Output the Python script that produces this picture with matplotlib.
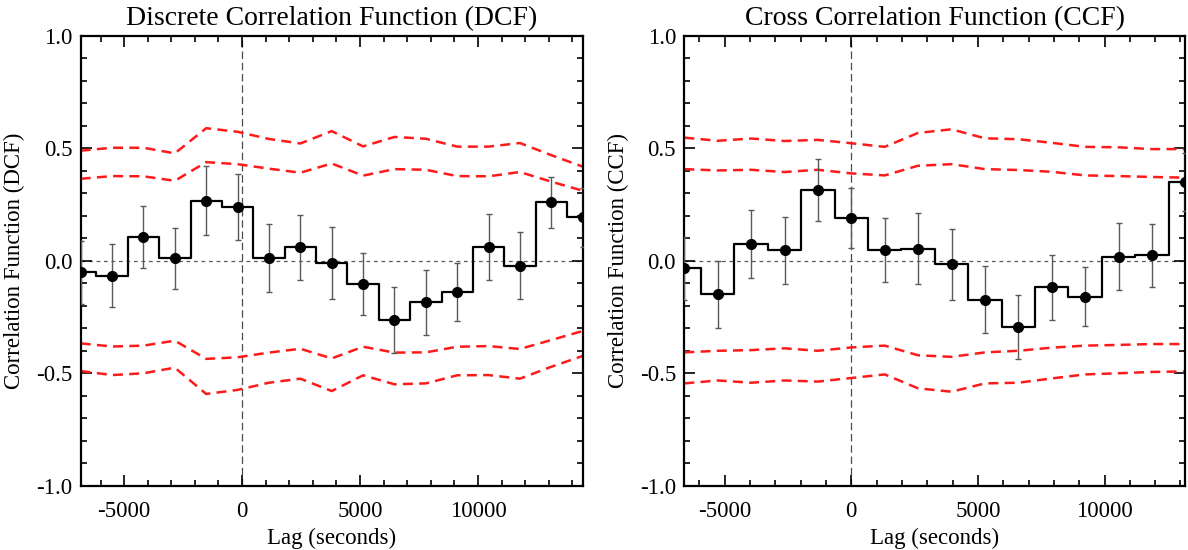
import matplotlib
matplotlib.use("Agg")
import matplotlib.pyplot as plt
from matplotlib.ticker import MultipleLocator, FormatStrFormatter

plt.rcParams['font.family'] = ['Liberation Serif', 'DejaVu Serif']
plt.rcParams['axes.unicode_minus'] = False

# ---------------- DCF (left panel) ----------------
dcf_lag = [-6840, -5510, -4180, -2850, -1520, -190, 1140, 2470, 3800,
           5130, 6460, 7790, 9120, 10450, 11780, 13110, 14440]
dcf_val = [-0.050, -0.066, 0.104, 0.011, 0.267, 0.241, 0.013, 0.060, -0.011,
           -0.102, -0.262, -0.185, -0.140, 0.061, -0.021, 0.260, 0.193]
dcf_err = [0.14, 0.140, 0.138, 0.136, 0.153, 0.147, 0.152, 0.145, 0.160,
           0.138, 0.146, 0.146, 0.129, 0.146, 0.149, 0.115, 0.13]
dcf_up_outer = [0.490, 0.503, 0.503, 0.478, 0.590, 0.574, 0.542, 0.522, 0.577,
                0.509, 0.551, 0.543, 0.508, 0.508, 0.524, 0.470, 0.419]
dcf_up_inner = [0.365, 0.377, 0.376, 0.356, 0.439, 0.430, 0.410, 0.392, 0.433,
                0.379, 0.408, 0.405, 0.377, 0.376, 0.395, 0.352, 0.312]
dcf_lo_inner = [-0.367, -0.381, -0.377, -0.355, -0.436, -0.429, -0.408, -0.391, -0.434,
                -0.382, -0.408, -0.407, -0.382, -0.379, -0.392, -0.352, -0.312]
dcf_lo_outer = [-0.490, -0.508, -0.500, -0.475, -0.592, -0.574, -0.542, -0.524, -0.579,
                -0.509, -0.549, -0.545, -0.509, -0.508, -0.524, -0.471, -0.423]

# ---------------- CCF (right panel) ----------------
ccf_lag = [-6595, -5276, -3957, -2638, -1319, 0, 1319, 2638, 3957,
           5276, 6595, 7914, 9233, 10552, 11871, 13190]
ccf_val = [-0.033, -0.149, 0.075, 0.047, 0.315, 0.189, 0.047, 0.053, -0.016,
           -0.173, -0.294, -0.118, -0.159, 0.018, 0.024, 0.350]
ccf_err = [0.14, 0.148, 0.150, 0.149, 0.139, 0.133, 0.143, 0.158, 0.157,
           0.148, 0.143, 0.143, 0.132, 0.149, 0.142, 0.13]
ccf_up_outer = [0.548, 0.534, 0.544, 0.533, 0.538, 0.523, 0.507, 0.569, 0.585,
                0.545, 0.541, 0.525, 0.507, 0.505, 0.497, 0.497]
ccf_up_inner = [0.408, 0.402, 0.405, 0.395, 0.405, 0.389, 0.380, 0.423, 0.430,
                0.408, 0.404, 0.396, 0.380, 0.377, 0.373, 0.370]
ccf_lo_inner = [-0.407, -0.400, -0.397, -0.389, -0.400, -0.385, -0.377, -0.420, -0.427,
                -0.407, -0.400, -0.386, -0.377, -0.374, -0.370, -0.370]
ccf_lo_outer = [-0.545, -0.532, -0.542, -0.532, -0.537, -0.521, -0.505, -0.567, -0.582,
                -0.545, -0.542, -0.523, -0.505, -0.500, -0.494, -0.492]

titles = ["Discrete Correlation Function (DCF)", "Cross Correlation Function (CCF)"]
ylabels = ["Correlation Function (DCF)", "Correlation Function (CCF)"]
xlabel = "Lag (seconds)"

fig = plt.figure(figsize=(11.88, 5.5), dpi=100)
W, H = 1188.0, 550.0
ax1 = fig.add_axes([80.7 / W, 64.3 / H, 502.0 / W, 449.7 / H])
ax2 = fig.add_axes([684.3 / W, 64.3 / H, 501.0 / W, 449.7 / H])

panels = [
    (ax1, dcf_lag, dcf_val, dcf_err, dcf_up_outer, dcf_up_inner, dcf_lo_inner, dcf_lo_outer),
    (ax2, ccf_lag, ccf_val, ccf_err, ccf_up_outer, ccf_up_inner, ccf_lo_inner, ccf_lo_outer),
]

for i, (ax, lag, val, err, uo, ui, li, lo) in enumerate(panels):
    ax.axhline(0, color='0.35', lw=0.9, ls=(0, (3, 3)), zorder=1)
    ax.axvline(0, color='0.3', lw=0.9, ls=(0, (6, 3)), zorder=1)
    for band in (uo, ui, li, lo):
        ax.plot(lag, band, color='#ff1a1a', lw=1.8, ls=(0, (4, 2.5)), zorder=2)
    ax.errorbar(lag, val, yerr=err, fmt='none', ecolor='0.35', elinewidth=1.0,
                capsize=2.5, capthick=1.0, zorder=3)
    ax.plot(lag, val, color='black', lw=1.6, drawstyle='steps-mid', zorder=4)
    ax.plot(lag, val, 'o', color='black', ms=7, zorder=5)

    ax.set_xlim(lag[0], lag[-1])
    ax.set_ylim(-1.0, 1.0)
    ax.xaxis.set_major_locator(MultipleLocator(5000))
    ax.xaxis.set_minor_locator(MultipleLocator(1000))
    ax.yaxis.set_major_locator(MultipleLocator(0.5))
    ax.yaxis.set_minor_locator(MultipleLocator(0.1))
    ax.yaxis.set_major_formatter(FormatStrFormatter('%.1f'))
    ax.tick_params(which='both', direction='in', top=True, right=True,
                   labelsize=16.5, width=1.2)
    ax.tick_params(which='major', length=8)
    ax.tick_params(which='minor', length=4)
    ax.tick_params(axis='x', which='major', pad=11)
    ax.tick_params(axis='y', which='major', pad=6)
    for s in ax.spines.values():
        s.set_linewidth(1.6)
    ax.set_title(titles[i], fontsize=20, pad=8)
    ax.set_ylabel(ylabels[i], fontsize=16.5, labelpad=8)
    ax.set_xlabel(xlabel, fontsize=16.5, labelpad=4)

fig.savefig("out.png", dpi=100)
